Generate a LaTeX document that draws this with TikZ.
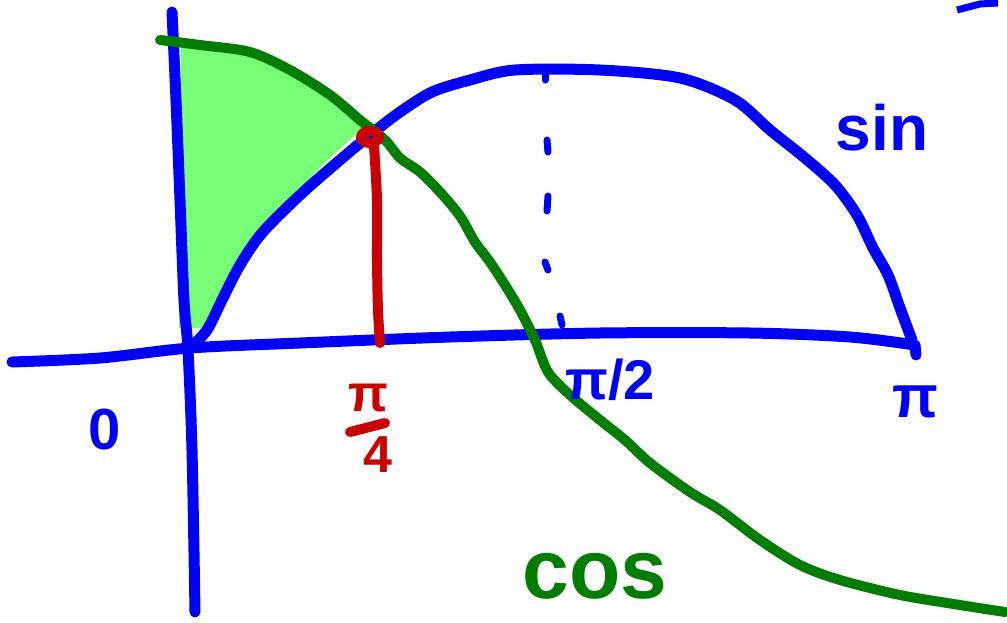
\documentclass[tikz,border=0pt]{standalone}
\usepackage{fontspec}
\setmainfont{Liberation Sans}
\definecolor{pen}{RGB}{0,0,245}
\definecolor{gpen}{RGB}{0,125,0}
\definecolor{rpen}{RGB}{200,0,0}
\definecolor{gfill}{RGB}{120,255,120}
\tikzset{
  bluestroke/.style={draw=pen,line width=11pt,line cap=round,line join=round},
  greenstroke/.style={draw=gpen,line width=10pt,line cap=round,line join=round},
  redstroke/.style={draw=rpen,line width=10pt,line cap=round,line join=round},
  bluelabel/.style={text=pen,font=\bfseries\fontsize{#1}{#1}\selectfont,inner sep=0pt},
}
\begin{document}
\begin{tikzpicture}[x=1pt,y=-1pt]
\useasboundingbox (0,0) rectangle (1007,622);
% green shaded area
\fill[gfill] plot[smooth] coordinates {(181,42)(220,48)(260,58)(300,80)(335,105)(364,127)}
  -- plot[smooth] coordinates {(364,127)(330,158)(290,200)(255,245)(228,290)(205,328)}
  -- (179,328) -- cycle;
% axes
\draw[bluestroke] plot[smooth] coordinates {(172,12)(176,100)(180,200)(184,300)(188,350)(192,450)(195,612)};
\draw[bluestroke] plot[smooth] coordinates {(12,362)(100,358)(190,348)(300,343)(450,337)(600,333)(750,333)(850,337)(915,345)} -- (916,355);
% sin curve
\draw[bluestroke] plot[smooth] coordinates {(190,348)(207,330)(222,300)(240,265)(262,233)(300,195)(340,160)(370,135)(400,112)(432,92)(470,80)(515,70)(600,70)(680,78)(735,100)(770,130)(805,158)(835,185)(857,215)(873,248)(888,275)(900,308)(912,340)};
% dashed pi/2 line
\draw[bluestroke,line width=7pt] (545,73) -- (545,80);
\draw[bluestroke,line width=7pt] (547,140) -- (548,152);
\draw[bluestroke,line width=7pt] (548,196) -- (547,211);
\draw[bluestroke,line width=7pt] (545,262) -- (548,270);
\draw[bluestroke,line width=7pt] (560,316) -- (562,325);
% top-right stroke
\draw[pen,line width=7pt] (957,10) -- (980,4) -- (998,3);
% cos curve
\draw[greenstroke] plot[smooth] coordinates {(160,40)(200,45)(250,52)(290,70)(330,95)(360,120)(385,140)(400,158)(420,172)(440,192)(460,216)(475,242)(490,262)(505,285)(520,310)(535,340)(548,372)(570,395)(600,420)(625,440)(650,463)(690,492)(720,510)(760,540)(800,565)(840,580)(900,595)(960,605)(1005,612)};
% red point and drop line
\draw[redstroke,line width=10pt] (370,137) ellipse[x radius=9pt,y radius=6pt];
\draw[redstroke] plot[smooth] coordinates {(374,146)(377,200)(377,260)(378,310)(380,343)};
% labels
\node[bluelabel=58] (zero) at (105,430) {0};
\node[bluelabel=64] (sinlbl) at (882,128) {sin};
\node[bluelabel=56] (halfpi) at (610,380) {π/2};
\node[bluelabel=60] (pilbl) at (915,402) {π};
\node[bluelabel=84,text=gpen] (coslbl) at (595,576) {cos};
\node[bluelabel=52,text=rpen] (qpinum) at (368,398) {π};
\draw[redstroke] (350,432) -- (385,423);
\node[bluelabel=52,text=rpen] (qpiden) at (378,455) {4};
\end{tikzpicture}
\end{document}
